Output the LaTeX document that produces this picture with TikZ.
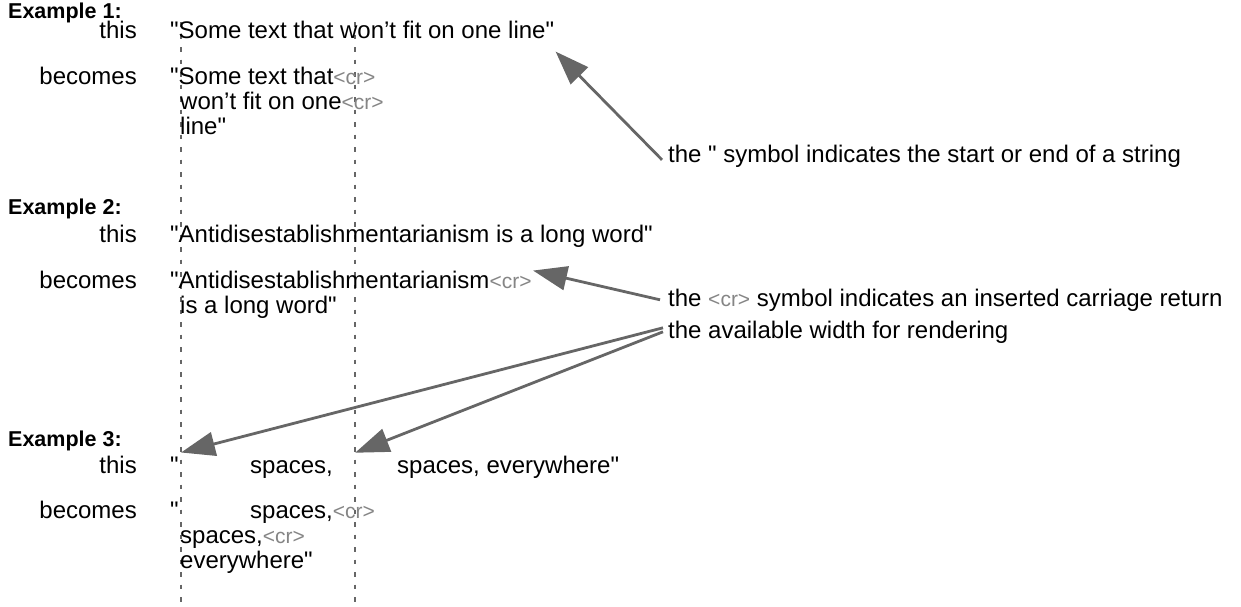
\documentclass[tikz,border=0pt]{standalone}
\usepackage{fontspec}
\setmainfont{Liberation Sans}[Ligatures=TeXOff]
\usetikzlibrary{arrows.meta}
\definecolor{linegray}{HTML}{666666}
\definecolor{crgray}{HTML}{858585}
\newcommand{\crmark}{{\fontsize{21}{25}\selectfont\textcolor{crgray}{<cr>}}}
\begin{document}
\begin{tikzpicture}[x=1pt,y=-1pt,
  txt/.style={inner sep=0pt,font=\fontsize{24}{28}\selectfont,anchor=base west},
  lbl/.style={inner sep=0pt,font=\fontsize{24}{28}\selectfont,anchor=base east},
  hd/.style={inner sep=0pt,font=\fontsize{21.5}{25}\selectfont\bfseries,anchor=base west},
  guide/.style={draw=linegray,line width=2.5pt,dash pattern=on 4.5pt off 8pt},
  arr/.style={draw=linegray,line width=2.8pt,-{Triangle[length=34pt,width=24pt]},shorten >=-2pt}
]
\useasboundingbox (0,0) rectangle (1241,606);
% guides
\coordinate (g1t) at (181,22); \coordinate (g1b) at (181,602);
\coordinate (g2t) at (355,22); \coordinate (g2b) at (355,602);
\draw[guide] (g1t) -- (g1b);
\draw[guide] (g2t) -- (g2b);
% Example 1
\node[hd] (e1) at (8,18) {Example 1:};
\node[lbl] (t1) at (137,38) {this};
\node[txt] (s1) at (170,38) {"Some text that won’t fit on one line"};
\node[lbl] (b1) at (137,84) {becomes};
\node[txt] (s1a) at (170,84) {"Some text that\crmark};
\node[txt] (s1b) at (180,109) {won’t fit on one\crmark};
\node[txt] (s1c) at (180,134) {line"};
\node[txt] (c1) at (668,162) {the " symbol indicates the start or end of a string};
% Example 2
\node[hd] (e2) at (8,214) {Example 2:};
\node[lbl] (t2) at (137,242) {this};
\node[txt] (s2) at (170,242) {"Antidisestablishmentarianism is a long word"};
\node[lbl] (b2) at (137,288) {becomes};
\node[txt] (s2a) at (170,288) {"Antidisestablishmentarianism\crmark};
\node[txt] (s2b) at (180,313) {is a long word"};
\node[txt] (c2) at (668,306) {the \crmark{} symbol indicates an inserted carriage return};
\node[txt] (c3) at (668,338) {the available width for rendering};
% Example 3
\node[hd] (e3) at (8,446) {Example 3:};
\node[lbl] (t3) at (137,473) {this};
\node[txt] (s3) at (170,473) {\rlap{"}\hspace{80pt}\rlap{spaces,}\hspace{147pt}spaces, everywhere"};
\node[lbl] (b3) at (137,518) {becomes};
\node[txt] (s3a) at (170,518) {\rlap{"}\hspace{80pt}spaces,\crmark};
\node[txt] (s3b) at (180,543) {spaces,\crmark};
\node[txt] (s3c) at (180,568) {everywhere"};
% arrows
\coordinate (a1) at (557,53);
\coordinate (a2) at (535,271);
\coordinate (a3) at (183,452);
\coordinate (a4) at (357,452);
\draw[arr] ([xshift=-6pt,yshift=-4pt]c1.west) -- (a1);
\draw[arr] ([xshift=-8pt]c2.west) -- (a2);
\draw[arr] ([xshift=-5pt,yshift=4pt]c3.west) -- (a3);
\draw[arr] ([xshift=-5pt,yshift=0pt]c3.west) -- (a4);
\end{tikzpicture}
\end{document}
